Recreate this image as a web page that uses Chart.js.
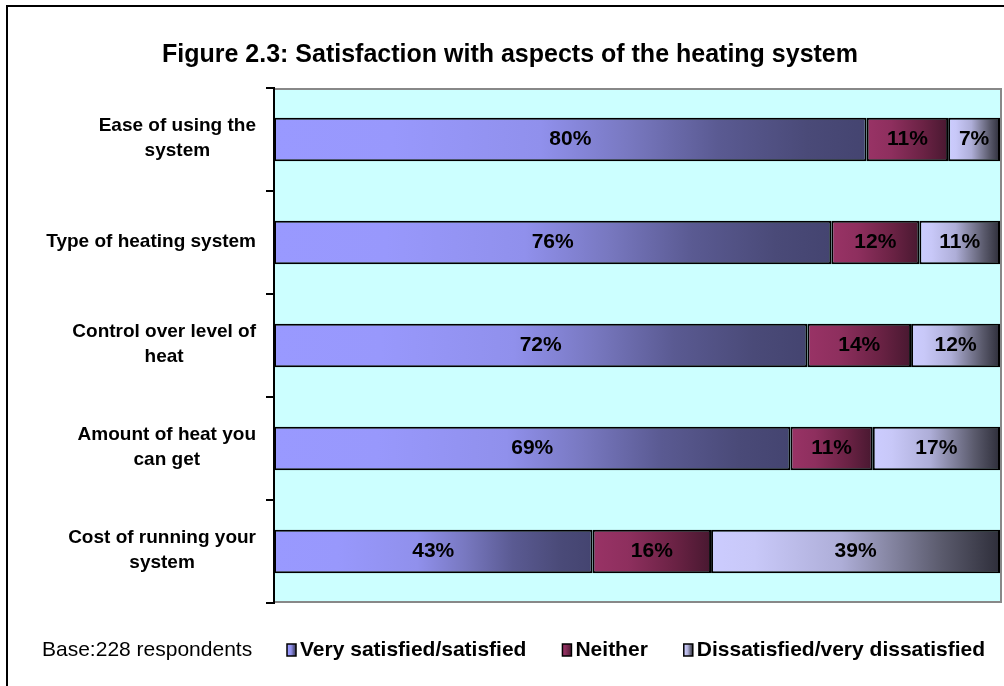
<!DOCTYPE html>
<html><head><meta charset="utf-8">
<script src="https://cdn.jsdelivr.net/npm/chart.js@4/dist/chart.umd.min.js"></script>
<style>html,body{margin:0;padding:0;background:#fff;}canvas{display:block}</style>
</head><body>
<canvas id="c" width="1004" height="686"></canvas>
<script>
// ---- data ----
const categories = [["Ease of using the","system"],["Type of heating system"],["Control over level of","heat"],["Amount of heat you","can get"],["Cost of running your","system"]];
const verySatisfied = [80, 76, 72, 69, 43];
const neither = [11, 12, 14, 11, 16];
const dissatisfied = [7, 11, 12, 17, 39];
const seriesNames = ["Very satisfied/satisfied", "Neither", "Dissatisfied/very dissatisfied"];
const chartTitle = "Figure 2.3: Satisfaction with aspects of the heating system";
const baseNote = "Base:228 respondents";

// ---- styles ----
const FONT = "'Liberation Sans', Arial, sans-serif";
const gradStops = [
  [[0,'#9999FF'],[0.2,'#9898FC'],[0.45,'#9090EC'],[0.6,'#7878C0'],[0.75,'#5A5A92'],[0.9,'#4A4A78'],[1,'#444470']],
  [[0,'#993366'],[0.3,'#8E2F5E'],[0.7,'#6A2244'],[1,'#481830']],
  [[0,'#CCCCFF'],[0.15,'#C8C8F8'],[0.45,'#AEAED8'],[0.6,'#8A8AA8'],[0.8,'#5A5A6C'],[1,'#2E2E3A']]
];
const baseColors = ['#9999FF','#993366','#CCCCFF'];

// 100% stacked: each row normalised to its total
const raw = [verySatisfied, neither, dissatisfied];
const totals = categories.map((_, i) => raw.reduce((s, arr) => s + arr[i], 0));
const shares = raw.map(arr => arr.map((v, i) => v / totals[i] * 100));

function makeGrad(ctx, x0, x1, stops) {
  const g = ctx.createLinearGradient(x0, 0, x1, 0);
  stops.forEach(s => g.addColorStop(s[0], s[1]));
  return g;
}

function bg(dsIndex) {
  return (c) => {
    const chart = c.chart;
    if (c.type !== 'data' || !chart.chartArea || !chart.scales.x) return baseColors[dsIndex];
    const i = c.dataIndex;
    let start = 0;
    for (let d = 0; d < dsIndex; d++) start += shares[d][i];
    const end = start + shares[dsIndex][i];
    const xs = chart.scales.x;
    return makeGrad(chart.ctx, xs.getPixelForValue(start), xs.getPixelForValue(end), gradStops[dsIndex]);
  };
}

const decor = {
  id: 'decor',
  beforeDraw(chart) {
    const { ctx, chartArea: a } = chart;
    ctx.save();
    ctx.fillStyle = '#fff';
    ctx.fillRect(0, 0, chart.width, chart.height);
    ctx.fillStyle = '#CCFFFF';
    ctx.fillRect(a.left, a.top, a.right - a.left, a.bottom - a.top);
    ctx.strokeStyle = '#888888';
    ctx.lineWidth = 2;
    ctx.beginPath();
    ctx.moveTo(a.left, a.top + 1);
    ctx.lineTo(a.right + 1, a.top + 1);
    ctx.lineTo(a.right + 1, a.bottom - 1);
    ctx.lineTo(a.left, a.bottom - 1);
    ctx.stroke();
    // outer frame
    ctx.fillStyle = '#000';
    ctx.fillRect(6, 5, chart.width - 6, 2);
    ctx.fillRect(6, 5, 2, chart.height - 5);
    ctx.restore();
  },
  afterDatasetsDraw(chart) {
    const { ctx } = chart;
    ctx.save();
    ctx.font = "bold 21px " + FONT;
    ctx.fillStyle = '#000';
    ctx.textAlign = 'center';
    ctx.textBaseline = 'middle';
    chart.data.datasets.forEach((ds, d) => {
      chart.getDatasetMeta(d).data.forEach((el, i) => {
        const p = el.getProps(['x', 'y', 'base'], true);
        ctx.fillText(raw[d][i] + '%', (p.x + p.base) / 2, p.y);
      });
    });
    ctx.restore();
  },
  afterDraw(chart) {
    const { ctx, chartArea: a } = chart;
    const ys = chart.scales.y;
    ctx.save();
    ctx.fillStyle = '#000';
    // title
    ctx.font = "bold 25px " + FONT;
    ctx.textAlign = 'center';
    ctx.textBaseline = 'middle';
    ctx.fillText(chartTitle, 510, 55);
    // category labels
    ctx.font = "bold 19px " + FONT;
    const lh = 25;
    categories.forEach((lines, i) => {
      const cy = ys.getPixelForValue(i) - 1;
      const w = Math.max(...lines.map(l => ctx.measureText(l).width));
      const cx = a.left - 18 - w / 2;
      lines.forEach((l, k) => {
        ctx.fillText(l, cx, cy + (k - (lines.length - 1) / 2) * lh);
      });
    });
    // legend
    const ly = 650;
    ctx.textAlign = 'left';
    ctx.font = "21px " + FONT;
    ctx.fillText(baseNote, 42, ly);
    ctx.font = "bold 21px " + FONT;
    let x = 287;
    seriesNames.forEach((n, d) => {
      ctx.fillStyle = makeGrad(ctx, x, x + 9, gradStops[d]);
      ctx.fillRect(x, ly - 6, 9, 12);
      ctx.strokeStyle = '#000';
      ctx.lineWidth = 1.5;
      ctx.strokeRect(x, ly - 6, 9, 12);
      ctx.fillStyle = '#000';
      ctx.fillText(n, x + 13, ly);
      x += 13 + ctx.measureText(n).width + 36;
    });
    ctx.restore();
  }
};

new Chart(document.getElementById('c'), {
  type: 'bar',
  data: {
    labels: categories.map(l => l.join(' ')),
    datasets: seriesNames.map((n, d) => ({
      label: n,
      data: shares[d],
      backgroundColor: bg(d),
      borderColor: '#000',
      borderWidth: 2,
      borderSkipped: false,
      barPercentage: 0.42,
      categoryPercentage: 1
    }))
  },
  options: {
    indexAxis: 'y',
    responsive: false,
    animation: false,
    layout: { padding: { top: 88, bottom: 83, right: 4, left: 0 } },
    plugins: { legend: { display: false }, title: { display: false }, tooltip: { enabled: false } },
    scales: {
      x: { stacked: true, min: 0, max: 100, display: false },
      y: {
        stacked: true,
        ticks: { display: false },
        grid: { display: true, drawOnChartArea: false, drawTicks: true, tickLength: 8, color: '#000', lineWidth: 2, offset: true },
        border: { display: true, color: '#000', width: 2 },
        afterFit(s) { s.width = 274; }
      }
    }
  },
  plugins: [decor]
});
</script>
</body></html>
